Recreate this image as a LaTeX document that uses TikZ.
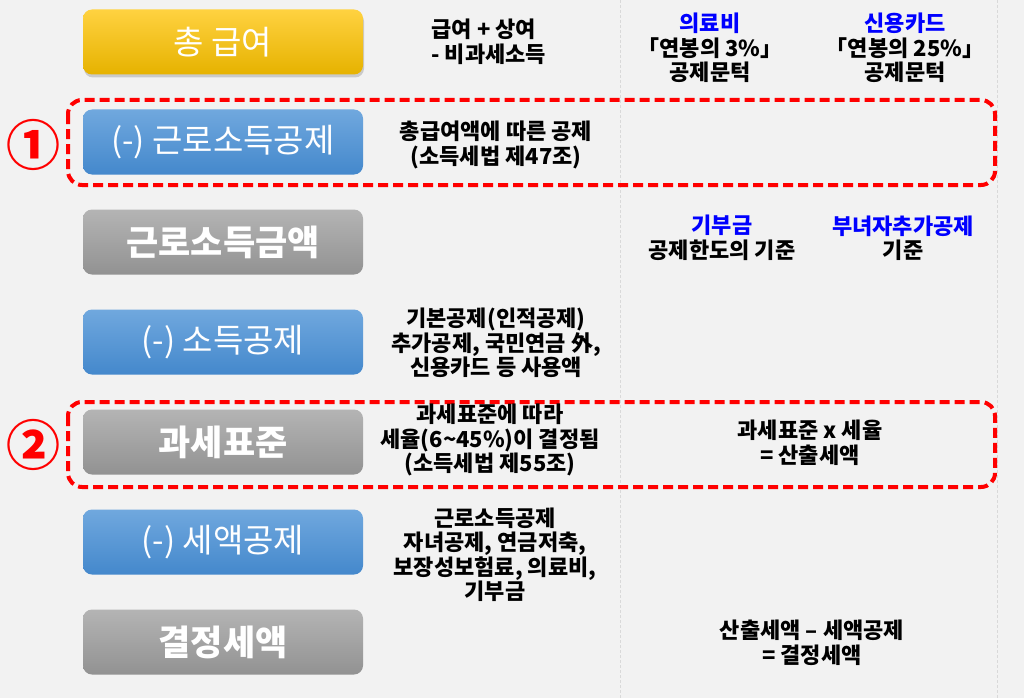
\documentclass[tikz,border=0pt]{standalone}
\usepackage{fontspec}
\setmainfont{Noto Sans CJK KR}
\usepackage{xcolor}
\usepackage{tikz}
\usetikzlibrary{shadows}
\definecolor{pagegray}{RGB}{242,242,242}
\definecolor{ytop}{RGB}{255,210,64}
\definecolor{ybot}{RGB}{230,178,0}
\definecolor{btop}{RGB}{112,168,222}
\definecolor{bbot}{RGB}{68,136,204}
\definecolor{gtop}{RGB}{180,180,180}
\definecolor{gbot}{RGB}{146,146,146}
\definecolor{markred}{RGB}{255,0,0}
\definecolor{keyblue}{RGB}{0,0,255}

\tikzset{
  stepbase/.style={rounded corners=9pt, minimum width=280pt, minimum height=65pt,
    inner sep=0pt, text=white, font=\fontsize{33}{38}\selectfont},
  stepyellow/.style={stepbase, top color=ytop, bottom color=ybot,
    drop shadow={shadow xshift=1pt, shadow yshift=-3pt, opacity=.35}},
  stepblue/.style={stepbase, top color=btop, bottom color=bbot},
  stepgray/.style={stepbase, top color=gtop, bottom color=gbot,
    font=\fontsize{35}{40}\selectfont\bfseries},
  note/.style={align=center, font=\fontsize{22}{24.5}\selectfont\bfseries},
  redframe/.style={draw=markred, line width=4pt, rounded corners=14pt,
    dash pattern=on 10pt off 5pt},
  gridline/.style={draw=black!15, line width=0.6pt, dash pattern=on 3pt off 2pt},
  marknum/.style={text=markred, font=\fontsize{54}{58}\selectfont\bfseries},
}

\begin{document}
\begin{tikzpicture}[x=1pt,y=-1pt]
  % page
  \fill[pagegray] (0,0) rectangle (1024,698);
  \useasboundingbox (0,0) rectangle (1024,698);
  \draw[gridline] (620,0) -- (620,698);
  \draw[gridline] (997,0) -- (997,698);

  % steps
  \node[stepyellow] (gross)  at (223,42)  {총 급여};
  \node[stepblue]   (earnded) at (223,142) {(-) 근로소득공제};
  \node[stepgray]   (earninc) at (223,242) {근로소득금액};
  \node[stepblue]   (incded) at (223,342) {(-) 소득공제};
  \node[stepgray]   (taxbase) at (223,442) {과세표준};
  \node[stepblue]   (taxcred) at (223,542) {(-) 세액공제};
  \node[stepgray]   (finaltax) at (223,642) {결정세액};

  % highlighted rows
  \draw[redframe] (68,100) rectangle (995,185);
  \draw[redframe] (68,402) rectangle (995,487);
  \node[marknum] (markone) at (33,145) {①};
  \node[marknum] (marktwo) at (33,445) {②};

  % notes
  \node[note, align=left, anchor=west] (grossnote) at (428,42) {급여 + 상여\\- 비과세소득};
  \node[note] (earndednote) at (496,145) {총급여액에 따른 공제\\(소득세법 제47조)};
  \node[note] (incdednote) at (496,343) {기본공제(인적공제)\\추가공제, 국민연금 外,\\신용카드 등 사용액};
  \node[note] (taxbasenote) at (490,440) {과세표준에 따라\\세율(6\textasciitilde45\%)이 결정됨\\(소득세법 제55조)};
  \node[note] (taxcrednote) at (495,555) {근로소득공제\\자녀공제, 연금저축,\\보장성보험료, 의료비,\\기부금};

  \node[note] (medical) at (710,48) {\textcolor{keyblue}{의료비}\\「연봉의 3\%」\\공제문턱};
  \node[note] (card) at (905,48) {\textcolor{keyblue}{신용카드}\\「연봉의 25\%」\\공제문턱};
  \node[note] (donation) at (722,238) {\textcolor{keyblue}{기부금}\\공제한도의 기준};
  \node[note] (women) at (903,238) {\textcolor{keyblue}{부녀자추가공제}\\기준};
  \node[note] (calctax) at (810,443) {과세표준 x 세율\\= 산출세액};
  \node[note] (decided) at (812,643) {산출세액 – 세액공제\\= 결정세액};
\end{tikzpicture}
\end{document}
